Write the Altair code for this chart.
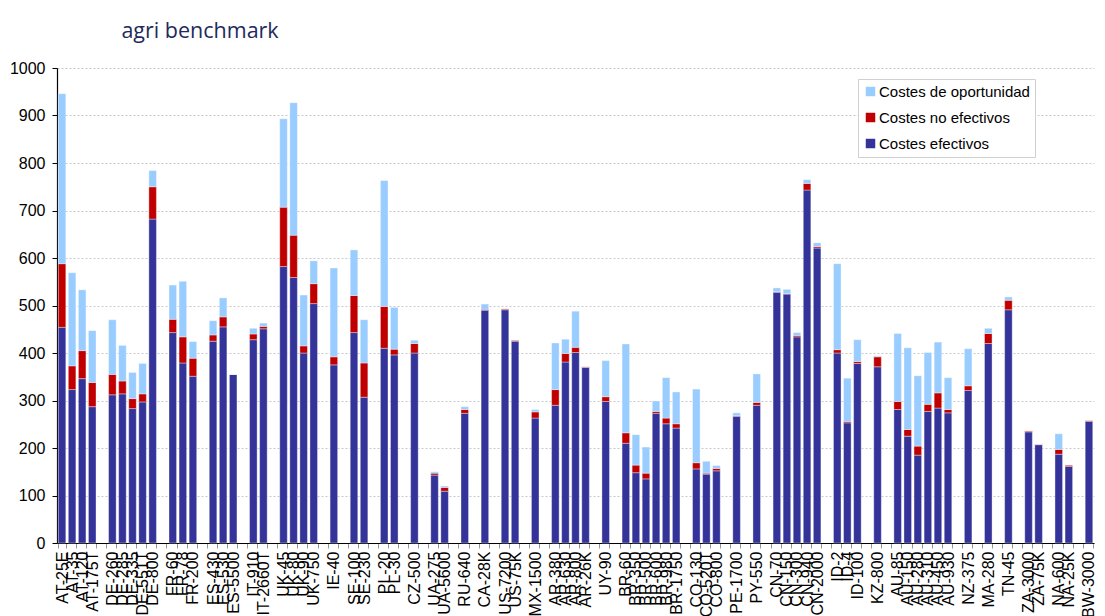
import altair as alt
import pandas as pd

groups = [
    ["AT-25E", "AT-35", "AT-120", "AT-175T"],
    ["DE-260", "DE-285", "DE-335", "DE-551T", "DE-800"],
    ["FR-60", "FR-78", "FR-200"],
    ["ES-430", "ES-530", "ES-5500"],
    ["IT-910", "IT-2660T"],
    ["UK-45", "UK-80", "UK-90", "UK-750"],
    ["IE-40"],
    ["SE-100", "SE-230"],
    ["PL-20", "PL-30"],
    ["CZ-500"],
    ["UA-275", "UA-5600"],
    ["RU-640"],
    ["CA-28K"],
    ["US-7200", "US-75K"],
    ["MX-1500"],
    ["AR-380", "AR-630", "AR-800", "AR-26K"],
    ["UY-90"],
    ["BR-60", "BR-350", "BR-500", "BR-600", "BR-980", "BR-1750"],
    ["CO-130", "CO-520T", "CO-800"],
    ["PE-1700"],
    ["PY-550"],
    ["CN-70", "CN-150", "CN-300", "CN-940", "CN-2000"],
    ["ID-2", "ID-4", "ID-100"],
    ["KZ-800"],
    ["AU-85", "AU-150", "AU-280", "AU-310", "AU-450", "AU-930"],
    ["NZ-375"],
    ["MA-280"],
    ["TN-45"],
    ["ZA-3000", "ZA-75K"],
    ["NA-600", "NA-25K"],
    ["BW-3000"],
]

efectivos = [
    454, 323, 346, 287,
    312, 314, 283, 297, 682,
    443, 379, 351,
    425, 455, 355,
    428, 451,
    582, 559, 400, 504,
    375,
    443, 307,
    410, 396,
    400,
    143, 109,
    273,
    490,
    491, 425,
    263,
    290, 381, 401, 370,
    298,
    210, 148, 135, 273, 251, 242,
    156, 145, 152,
    267,
    290,
    528, 524, 434, 743, 621,
    400, 253, 378,
    371,
    281, 225, 185, 277, 284, 274,
    321,
    420,
    491,
    234, 207,
    187, 161,
    256,
]

no_efectivos = [
    134, 50, 59, 51,
    43, 27, 21, 17, 68,
    28, 55, 38,
    13, 21, 0,
    12, 5,
    125, 89, 15, 42,
    17,
    78, 72,
    88, 12,
    20,
    4, 8,
    8,
    2,
    2, 2,
    13,
    33, 18, 11, 1,
    10,
    22, 16, 12, 4, 12, 9,
    13, 2, 5,
    1,
    6,
    1, 1, 3, 14, 3,
    7, 3, 4,
    21,
    17, 14, 19, 15, 32, 7,
    10,
    21,
    20,
    2, 1,
    10, 3,
    2,
]

oportunidad = [
    358, 196, 128, 109,
    115, 75, 55, 64, 34,
    72, 117, 35,
    30, 40, 0,
    12, 7,
    186, 279, 107, 48,
    187,
    96, 91,
    265, 88,
    7,
    3, 3,
    6,
    11,
    0, 0,
    5,
    98, 30, 76, 0,
    76,
    187, 64, 55, 22, 85, 67,
    155, 25, 6,
    6,
    60,
    8, 9, 6, 8, 8,
    181, 91, 46,
    2,
    143, 172, 148, 109, 107, 67,
    78,
    11,
    7,
    0, 0,
    33, 0,
    0,
]

series = ["Costes de oportunidad", "Costes no efectivos", "Costes efectivos"]
colors = ["#99CCFF", "#C00000", "#333399"]

# x domain with empty slots between country groups
domain = []
categories = []
for gi, g in enumerate(groups):
    if gi > 0:
        domain.append("_gap%d" % gi)
    domain.extend(g)
    categories.extend(g)

rows = []
for i, c in enumerate(categories):
    rows.append({"cat": c, "serie": "Costes efectivos", "valor": efectivos[i], "orden": 0})
    rows.append({"cat": c, "serie": "Costes no efectivos", "valor": no_efectivos[i], "orden": 1})
    rows.append({"cat": c, "serie": "Costes de oportunidad", "valor": oportunidad[i], "orden": 2})
df = pd.DataFrame(rows)

font = "Liberation Sans"

chart = alt.Chart(df).mark_bar(stroke="white", strokeWidth=0.6, strokeOpacity=0.6).encode(
    x=alt.X(
        "cat:N",
        sort=domain,
        scale=alt.Scale(domain=domain, paddingInner=0.25, paddingOuter=0.125),
        axis=alt.Axis(
            title=None,
            labelAngle=-90,
            labelExpr="indexof(datum.label, '_') == 0 ? '' : datum.label",
            labelOverlap=False,
            labelFontSize=16,
            labelFont=font,
            labelColor="black",
            labelPadding=3,
            tickBand="extent",
            tickColor="#999999",
            tickSize=5,
            domainColor="black",
            domainWidth=1.2,
        ),
    ),
    y=alt.Y(
        "valor:Q",
        stack="zero",
        scale=alt.Scale(domain=[0, 1000], nice=False),
        axis=alt.Axis(
            title=None,
            values=list(range(0, 1001, 100)),
            format="d",
            labelFontSize=16,
            labelFont=font,
            labelColor="black",
            labelPadding=7,
            tickColor="black",
            tickSize=5,
            domainColor="black",
            domainWidth=1.2,
            grid=True,
            gridColor="#c8c8c8",
            gridDash=[2, 2],
        ),
    ),
    color=alt.Color(
        "serie:N",
        scale=alt.Scale(domain=series, range=colors),
        legend=alt.Legend(
            title=None,
            orient="none",
            legendX=801,
            legendY=11,
            strokeColor="#d0d0d0",
            fillColor="white",
            padding=5,
            symbolType="square",
            symbolSize=90,
            symbolStrokeWidth=0,
            labelFontSize=15,
            labelFont=font,
            labelColor="black",
            rowPadding=10,
            labelOffset=1,
        ),
    ),
    order=alt.Order("orden:Q", sort="ascending"),
).properties(
    width=1089,
    height=475,
    autosize=alt.AutoSizeParams(type="fit-x", contains="padding"),
    title=alt.TitleParams(
        text="agri benchmark",
        anchor="start",
        dx=112,
        fontSize=21.5,
        font="Open Sans",
        fontWeight="normal",
        color="#1d2a5b",
        offset=18,
    ),
    padding={"left": 1, "top": 12, "right": 0, "bottom": 0},
).configure_view(stroke=None)

chart.save("out.html", embed_options={"renderer": "svg", "actions": False})
